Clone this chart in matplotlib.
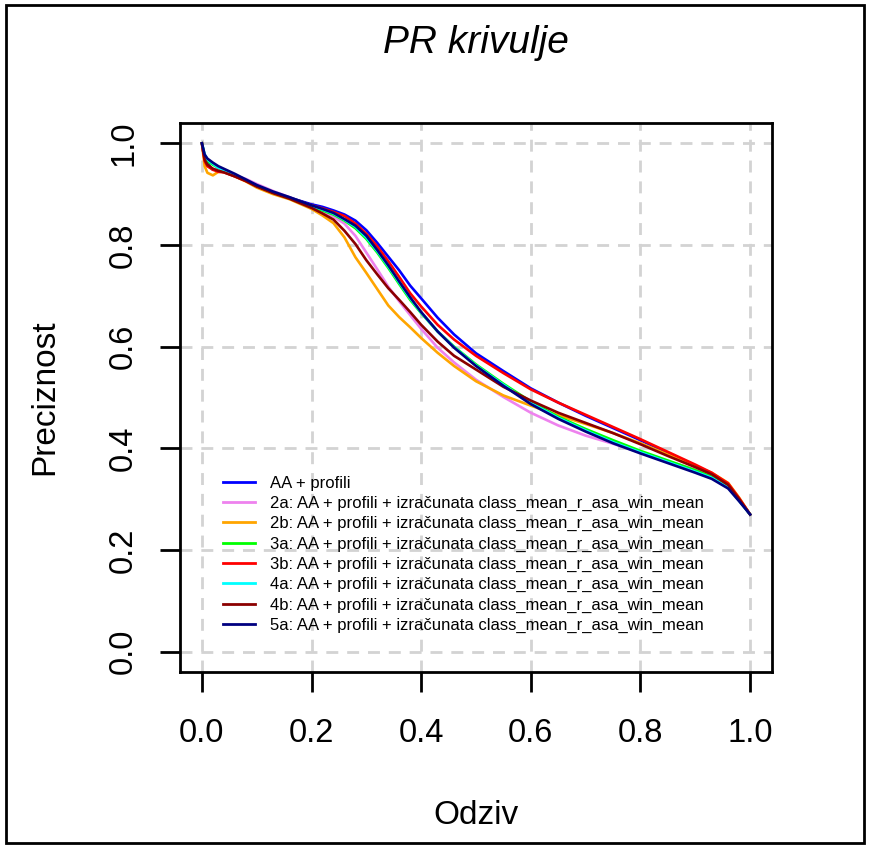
import matplotlib
matplotlib.use("Agg")
import matplotlib.pyplot as plt
from matplotlib.patches import Rectangle

plt.rcParams["font.family"] = ["Liberation Sans", "DejaVu Sans"]

# Recall values at which precision was sampled
recall = [0.0, 0.005, 0.01, 0.02, 0.03, 0.04, 0.06, 0.08, 0.10, 0.13, 0.16, 0.20,
          0.22, 0.24, 0.26, 0.28, 0.30, 0.32, 0.34, 0.36, 0.38, 0.40, 0.43, 0.46,
          0.50, 0.55, 0.60, 0.65, 0.70, 0.75, 0.80, 0.85, 0.90, 0.93, 0.96, 0.98, 1.0]

prec_aa = [1.0, 0.972, 0.960, 0.948, 0.950, 0.945, 0.937, 0.928, 0.917, 0.904, 0.893, 0.880,
           0.875, 0.868, 0.860, 0.848, 0.829, 0.804, 0.777, 0.750, 0.720, 0.695, 0.657, 0.624,
           0.587, 0.552, 0.518, 0.490, 0.464, 0.440, 0.416, 0.391, 0.366, 0.350, 0.328, 0.300, 0.27]
prec_2a = [1.0, 0.965, 0.955, 0.950, 0.948, 0.944, 0.937, 0.930, 0.920, 0.906, 0.894, 0.876,
           0.866, 0.856, 0.842, 0.818, 0.785, 0.752, 0.718, 0.689, 0.662, 0.635, 0.598, 0.569,
           0.535, 0.501, 0.470, 0.445, 0.425, 0.409, 0.392, 0.375, 0.358, 0.346, 0.326, 0.299, 0.27]
prec_2b = [1.0, 0.955, 0.942, 0.937, 0.944, 0.944, 0.935, 0.925, 0.913, 0.900, 0.890, 0.871,
           0.858, 0.843, 0.815, 0.776, 0.745, 0.713, 0.681, 0.658, 0.638, 0.617, 0.588, 0.562,
           0.532, 0.504, 0.484, 0.465, 0.448, 0.430, 0.410, 0.388, 0.365, 0.352, 0.332, 0.303, 0.27]
prec_3a = [1.0, 0.975, 0.965, 0.958, 0.952, 0.946, 0.937, 0.927, 0.916, 0.903, 0.892, 0.875,
           0.868, 0.860, 0.848, 0.833, 0.812, 0.785, 0.755, 0.723, 0.692, 0.666, 0.630, 0.600,
           0.565, 0.527, 0.492, 0.462, 0.438, 0.416, 0.395, 0.376, 0.357, 0.344, 0.324, 0.298, 0.27]
prec_3b = [1.0, 0.965, 0.955, 0.948, 0.944, 0.943, 0.935, 0.926, 0.916, 0.903, 0.893, 0.878,
           0.872, 0.865, 0.857, 0.842, 0.822, 0.797, 0.768, 0.737, 0.705, 0.679, 0.643, 0.614,
           0.582, 0.548, 0.516, 0.490, 0.466, 0.442, 0.418, 0.393, 0.368, 0.352, 0.331, 0.302, 0.27]
prec_4a = [1.0, 0.978, 0.968, 0.960, 0.952, 0.947, 0.938, 0.928, 0.917, 0.904, 0.893, 0.877,
           0.870, 0.862, 0.850, 0.836, 0.815, 0.788, 0.758, 0.726, 0.695, 0.667, 0.630, 0.599,
           0.563, 0.525, 0.489, 0.460, 0.435, 0.412, 0.392, 0.373, 0.354, 0.342, 0.323, 0.297, 0.27]
prec_4b = [1.0, 0.968, 0.958, 0.950, 0.946, 0.943, 0.935, 0.926, 0.915, 0.902, 0.891, 0.873,
           0.862, 0.850, 0.828, 0.802, 0.770, 0.742, 0.715, 0.692, 0.668, 0.643, 0.610, 0.582,
           0.555, 0.521, 0.494, 0.470, 0.450, 0.430, 0.408, 0.385, 0.363, 0.349, 0.328, 0.300, 0.27]
prec_5a = [1.0, 0.978, 0.970, 0.962, 0.955, 0.950, 0.940, 0.929, 0.918, 0.905, 0.894, 0.878,
           0.871, 0.863, 0.851, 0.838, 0.818, 0.790, 0.760, 0.728, 0.697, 0.668, 0.630, 0.598,
           0.562, 0.523, 0.487, 0.458, 0.433, 0.410, 0.390, 0.371, 0.352, 0.340, 0.321, 0.296, 0.27]

series_labels = [
    "AA + profili",
    "2a: AA + profili + izračunata class_mean_r_asa_win_mean",
    "2b: AA + profili + izračunata class_mean_r_asa_win_mean",
    "3a: AA + profili + izračunata class_mean_r_asa_win_mean",
    "3b: AA + profili + izračunata class_mean_r_asa_win_mean",
    "4a: AA + profili + izračunata class_mean_r_asa_win_mean",
    "4b: AA + profili + izračunata class_mean_r_asa_win_mean",
    "5a: AA + profili + izračunata class_mean_r_asa_win_mean",
]
series_values = [prec_aa, prec_2a, prec_2b, prec_3a, prec_3b, prec_4a, prec_4b, prec_5a]
series_colors = ["#0000FF", "#EE82EE", "#FFA500", "#00FF00", "#FF0000",
                 "#00FFFF", "#8B0000", "#000080"]

tick_values = [0.0, 0.2, 0.4, 0.6, 0.8, 1.0]
tick_labels = ["0.0", "0.2", "0.4", "0.6", "0.8", "1.0"]

W, H = 869, 846
fig = plt.figure(figsize=(W / 100, H / 100), dpi=100)
ax = fig.add_axes([180 / W, (H - 672) / H, (772 - 180) / W, (672 - 123) / H])

ax.set_xlim(-0.04, 1.04)
ax.set_ylim(-0.04, 1.04)

# dashed reference grid
for v in tick_values:
    ax.axvline(v, color="#D3D3D3", lw=2.0, linestyle=(0, (4.3, 3.2)), zorder=1)
    ax.axhline(v, color="#D3D3D3", lw=2.0, linestyle=(0, (4.3, 3.2)), zorder=1)

for vals, col, lab in zip(series_values, series_colors, series_labels):
    ax.plot(recall, vals, color=col, lw=1.9, label=lab, zorder=3,
            solid_joinstyle="round")

for s in ax.spines.values():
    s.set_linewidth(2.0)
ax.set_xticks(tick_values)
ax.set_xticklabels(tick_labels)
ax.set_yticks(tick_values)
ax.set_yticklabels(tick_labels, rotation=90, va="center")
ax.tick_params(axis="both", direction="out", length=14.4, width=2.0,
               labelsize=23.5)
ax.tick_params(axis="x", pad=18.5)
ax.tick_params(axis="y", pad=15)

fig.text(476 / W, 1 - 815 / H, "Odziv", fontsize=24, ha="center", va="center")
fig.text(45 / W, 1 - 397 / H, "Preciznost", fontsize=24, ha="center",
         va="center", rotation=90)
fig.text(476 / W, 1 - 53 / H, "PR krivulje", fontsize=28, ha="center",
         va="baseline", style="italic")

leg = ax.legend(loc="upper left", bbox_to_anchor=(223 / W, 1 - 475.5 / H),
                bbox_transform=fig.transFigure, frameon=False, fontsize=12,
                handlelength=1.92, handletextpad=0.9, labelspacing=0.315,
                borderpad=0, borderaxespad=0)
for line in leg.get_lines():
    line.set_linewidth(2.0)

fig.add_artist(Rectangle((6 / W, 1 - 843 / H), (864 - 6) / W, (843 - 5) / H,
                         transform=fig.transFigure, fill=False,
                         edgecolor="black", lw=2.0))

fig.savefig("out.png", dpi=100)
